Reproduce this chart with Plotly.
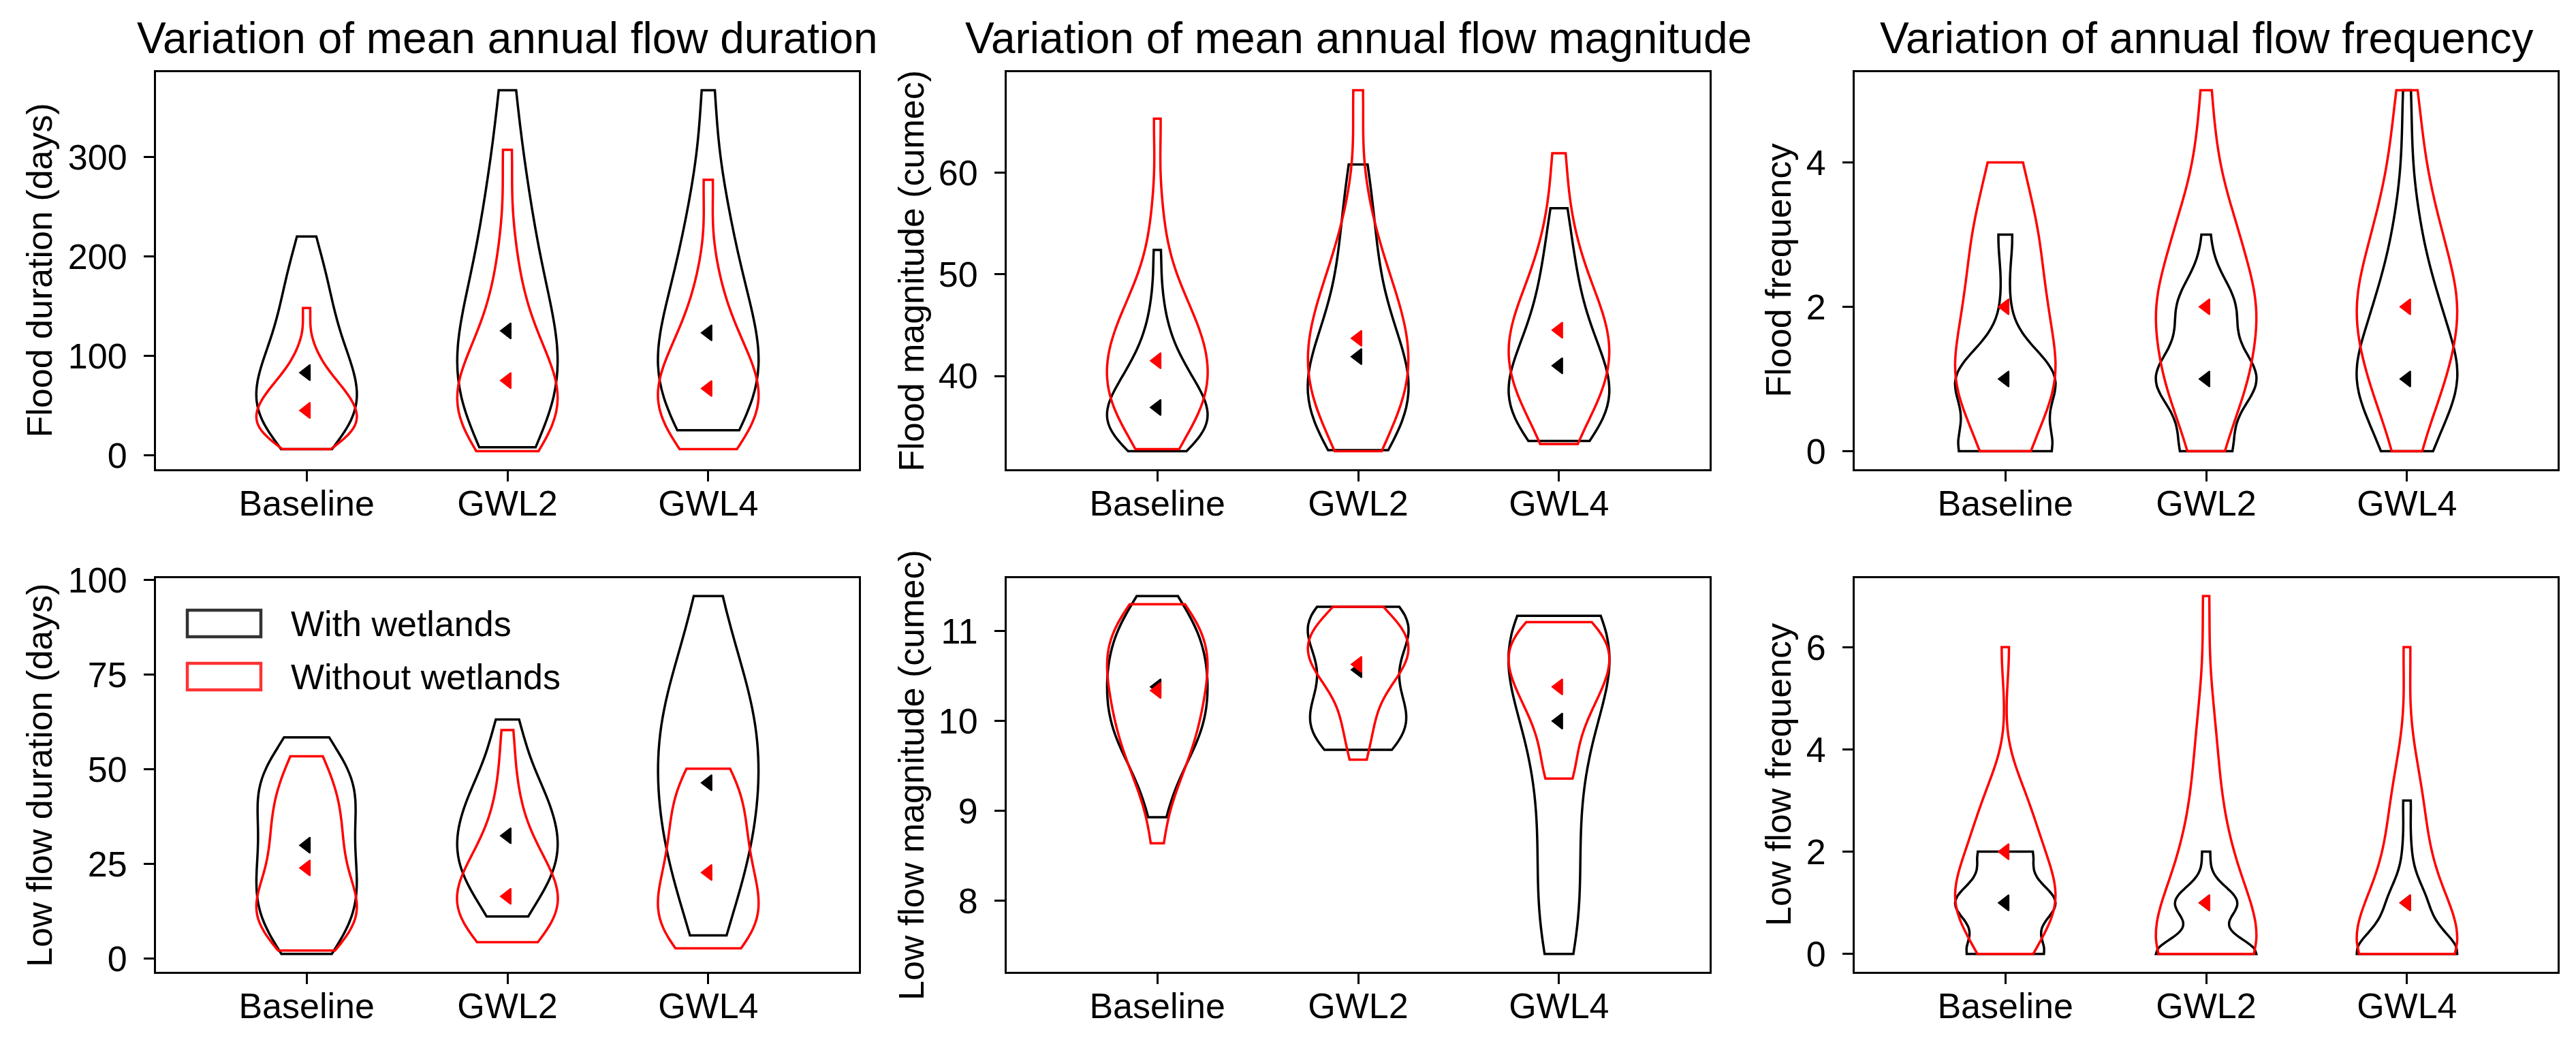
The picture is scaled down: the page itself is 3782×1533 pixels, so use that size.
import numpy as np
import plotly.graph_objects as go

# ---------------- data ----------------
SCENARIOS = ["Baseline", "GWL2", "GWL4"]
POSITIONS = [1, 2, 3]
SERIES = ["With wetlands", "Without wetlands"]

# Flood duration (days)
fd_with_base = [6, 15, 21, 26, 31, 36, 40, 45, 50, 54, 59, 63, 68, 73, 78, 83, 89, 94, 100, 107,
                114, 122, 131, 140, 150, 160, 172, 184, 197, 220]
fd_without_base = [6, 11, 14, 17, 20, 22, 25, 27, 30, 32, 35, 37, 39, 42, 44, 47, 49, 52, 55, 58,
                   61, 64, 68, 71, 75, 81, 87, 96, 110, 148]
fd_with_gwl2 = [8, 28, 40, 50, 61, 72, 82, 93, 105, 117, 129, 143, 157, 175, 194, 216, 241, 270, 303, 367]
fd_without_gwl2 = [4, 16, 23, 29, 35, 41, 47, 53, 59, 66, 73, 80, 89, 98, 111, 125, 144, 172, 215, 307]
fd_with_gwl4 = [25, 40, 49, 57, 66, 76, 85, 94, 104, 115, 126, 139, 152, 167, 184, 202, 227, 252, 290, 367]
fd_without_gwl4 = [6, 18, 25, 31, 37, 44, 50, 56, 62, 68, 75, 82, 90, 98, 109, 120, 134, 155, 190, 277]
fd_marker_with = [83, 125, 123]
fd_marker_without = [45, 75, 67]

# Flood magnitude (cumec)
fm_with_base = [32.6, 33.1, 33.4, 33.7, 34.0, 34.3, 34.6, 34.9, 35.2, 35.5, 35.8, 36.1, 36.4, 36.7, 37.0,
                37.3, 37.7, 38.1, 38.4, 38.8, 39.3, 39.8, 40.3, 40.9, 41.6, 42.5, 43.6, 45.2, 47.9, 52.4]
fm_without_base = [32.8, 34.0, 34.9, 35.5, 36.1, 36.6, 37.2, 37.7, 38.2, 38.7, 39.2, 39.7, 40.2, 40.7, 41.2,
                   41.7, 42.2, 42.7, 43.3, 43.8, 44.4, 45.0, 45.7, 46.5, 47.3, 48.3, 49.7, 52.1, 56.4, 65.3]
fm_with_gwl2 = [32.7, 34.0, 34.9, 35.7, 36.5, 37.3, 38.1, 38.8, 39.6, 40.5, 41.4, 42.4, 43.5, 44.9, 46.5,
                48.6, 51.2, 53.9, 56.7, 60.8]
fm_without_gwl2 = [32.6, 34.8, 35.9, 36.9, 38.0, 38.9, 39.8, 40.7, 41.6, 42.5, 43.4, 44.3, 45.4, 46.5, 47.7,
                   49.1, 50.8, 53.0, 57.2, 68.1]
fm_with_gwl4 = [33.6, 34.6, 35.3, 35.9, 36.6, 37.2, 37.8, 38.5, 39.2, 39.9, 40.7, 41.5, 42.4, 43.5, 44.7,
                46.2, 48.1, 50.2, 52.7, 56.5]
fm_without_gwl4 = [33.3, 35.8, 37.1, 38.0, 39.0, 39.9, 40.7, 41.5, 42.3, 43.0, 43.8, 44.6, 45.5, 46.4, 47.5,
                   48.8, 50.5, 52.8, 56.0, 61.9]
fm_marker_with = [36.9, 41.9, 41.0]
fm_marker_without = [41.5, 43.7, 44.5]

# Flood frequency: number of years with 0, 1, 2, ... events
FREQ_LEVELS = [0, 1, 2, 3, 4, 5, 6, 7]
ff_with_base_counts = [13, 14, 1, 2]
ff_without_base_counts = [4, 10, 7, 6, 3]
ff_with_gwl2_counts = [7, 14, 8, 1]
ff_without_gwl2_counts = [3, 8, 10, 6, 2, 1]
ff_with_gwl4_counts = [5, 13, 7, 3, 1, 1]
ff_without_gwl4_counts = [2, 7, 10, 6, 3, 2]
ff_marker_with = [1, 1, 1]
ff_marker_without = [2, 2, 2]

# Low flow duration (days)
ld_with_base = [1.3, 4, 6, 8, 10, 12, 13.5, 15, 17, 19, 20.5, 22, 24, 26, 28, 30, 32, 34, 36.5, 38.5,
                40.5, 42, 44, 45.5, 47, 48.5, 50, 52, 55, 58.5]
ld_without_base = [2.2, 4.5, 6, 7.5, 8.5, 9.5, 10.5, 11.5, 12.5, 13.5, 15, 16, 17.5, 19, 20.5, 23, 25, 27,
                   29, 31, 33, 35, 37, 39, 41, 43, 45, 48, 51, 53.5]
ld_with_gwl2 = [11.2, 15, 18, 20.5, 22.5, 24.5, 26.5, 28, 30, 31.5, 33.5, 35.5, 37.5, 40, 42, 44.5, 47, 51,
                57, 63.2]
ld_without_gwl2 = [4.4, 6, 8, 9.5, 11, 12.5, 14, 15, 16.5, 18, 19.5, 21, 23, 25, 27.5, 30, 34, 40, 48, 60.4]
ld_with_gwl4 = [6.2, 14, 20, 25, 29, 33, 37, 40.5, 44, 47.5, 51, 54.5, 58, 61.5, 65, 68.5, 73, 78, 85, 95.8]
ld_without_gwl4 = [2.8, 4, 6.5, 8.5, 10.5, 12, 14, 16, 18.5, 21, 23, 26, 29, 32, 35, 38, 41, 44, 47.5, 50.2]
ld_marker_with = [30, 32.5, 46.5]
ld_marker_without = [24, 16.5, 22.8]

# Low flow magnitude (cumec)
lm_with_base = [8.93, 9.25, 9.4, 9.55, 9.65, 9.72, 9.8, 9.87, 9.93, 10.0, 10.06, 10.12, 10.18, 10.25, 10.31,
                10.37, 10.43, 10.5, 10.56, 10.62, 10.68, 10.75, 10.81, 10.88, 10.95, 11.02, 11.1, 11.18,
                11.27, 11.39]
lm_without_base = [8.64, 9.1, 9.3, 9.42, 9.55, 9.65, 9.75, 9.83, 9.9, 9.97, 10.05, 10.12, 10.2, 10.27, 10.35,
                   10.42, 10.48, 10.55, 10.6, 10.66, 10.72, 10.78, 10.84, 10.9, 10.97, 11.04, 11.1, 11.17,
                   11.24, 11.30]
lm_with_gwl2 = [9.68, 9.75, 9.83, 9.9, 9.96, 10.02, 10.1, 10.2, 10.32, 10.45, 10.6, 10.74, 10.86, 10.96,
                11.04, 11.1, 11.15, 11.2, 11.24, 11.27]
lm_without_gwl2 = [9.57, 9.85, 10.0, 10.2, 10.35, 10.45, 10.52, 10.58, 10.64, 10.69, 10.74, 10.79, 10.84,
                   10.89, 10.94, 10.99, 11.05, 11.11, 11.18, 11.27]
lm_with_gwl4 = [7.41, 7.55, 7.75, 7.95, 8.15, 8.4, 8.65, 8.9, 9.15, 9.4, 9.6, 9.78, 9.94, 10.08, 10.2,
                10.32, 10.42, 10.52, 10.6, 10.68, 10.76, 10.83, 10.9, 10.96, 11.02, 11.07, 11.11, 11.14,
                11.16, 11.17]
lm_without_gwl4 = [9.36, 9.42, 9.7, 9.9, 10.05, 10.15, 10.25, 10.35, 10.42, 10.5, 10.56, 10.62, 10.68, 10.75,
                   10.82, 10.88, 10.94, 11.0, 11.05, 11.10]
lm_marker_with = [10.38, 10.57, 10.0]
lm_marker_without = [10.34, 10.63, 10.38]

# Low flow frequency: number of years with 0, 1, 2, ... events
lf_with_base_counts = [10, 13, 7]
lf_without_base_counts = [4, 10, 6, 4, 0, 0, 1]
lf_with_gwl2_counts = [13, 8, 1]
lf_without_gwl2_counts = [13, 6, 4, 2, 2, 1, 0, 1]
lf_with_gwl4_counts = [14, 5, 1, 1]
lf_without_gwl4_counts = [12, 6, 3, 3, 1, 0, 1]
lf_marker_with = [1, 1, 1]
lf_marker_without = [2, 1, 1]


def from_counts(counts):
    return np.repeat(FREQ_LEVELS[:len(counts)], counts).astype(float)


PANELS = [
    dict(title="Variation of mean annual flow duration", ylabel="Flood duration (days)", dtick=100,
         with_=[fd_with_base, fd_with_gwl2, fd_with_gwl4],
         without=[fd_without_base, fd_without_gwl2, fd_without_gwl4],
         m_with=fd_marker_with, m_without=fd_marker_without),
    dict(title="Variation of mean annual flow magnitude", ylabel="Flood magnitude (cumec)", dtick=10,
         with_=[fm_with_base, fm_with_gwl2, fm_with_gwl4],
         without=[fm_without_base, fm_without_gwl2, fm_without_gwl4],
         m_with=fm_marker_with, m_without=fm_marker_without),
    dict(title="Variation of annual flow frequency", ylabel="Flood frequency", dtick=2,
         with_=[from_counts(ff_with_base_counts), from_counts(ff_with_gwl2_counts),
                from_counts(ff_with_gwl4_counts)],
         without=[from_counts(ff_without_base_counts), from_counts(ff_without_gwl2_counts),
                  from_counts(ff_without_gwl4_counts)],
         m_with=ff_marker_with, m_without=ff_marker_without),
    dict(title=None, ylabel="Low flow duration (days)", dtick=25,
         with_=[ld_with_base, ld_with_gwl2, ld_with_gwl4],
         without=[ld_without_base, ld_without_gwl2, ld_without_gwl4],
         m_with=ld_marker_with, m_without=ld_marker_without),
    dict(title=None, ylabel="Low flow magnitude (cumec)", dtick=1,
         with_=[lm_with_base, lm_with_gwl2, lm_with_gwl4],
         without=[lm_without_base, lm_without_gwl2, lm_without_gwl4],
         m_with=lm_marker_with, m_without=lm_marker_without),
    dict(title=None, ylabel="Low flow frequency", dtick=2,
         with_=[from_counts(lf_with_base_counts), from_counts(lf_with_gwl2_counts),
                from_counts(lf_with_gwl4_counts)],
         without=[from_counts(lf_without_base_counts), from_counts(lf_without_gwl2_counts),
                  from_counts(lf_without_gwl4_counts)],
         m_with=lf_marker_with, m_without=lf_marker_without),
]

# ---------------- styling / layout ----------------
W, H = 3782, 1533
FONT = "Liberation Sans, Arial, sans-serif"
TICK_SIZE = 52
TITLE_SIZE = 64
COL_PX = [(229, 1261), (1478, 2510), (2723, 3755)]
ROW_PX = [(106, 689), (849, 1427)]
YLABEL_X_PX = [58, 1338, 2611]
COLORS = ["#000000", "#ff0000"]
LINE_W = 3.5


def scott_bandwidth(values):
    v = np.asarray(values, dtype=float)
    return float(np.std(v, ddof=1) * len(v) ** (-0.2))


fig = go.Figure()
annotations = []
layout_axes = {}

for i, p in enumerate(PANELS):
    r, c = divmod(i, 3)
    k = i + 1
    xa = "x" if k == 1 else f"x{k}"
    ya = "y" if k == 1 else f"y{k}"

    groups = [p["with_"], p["without"]]
    for s, grp in enumerate(groups):
        for pos, vals in zip(POSITIONS, grp):
            vals = np.asarray(vals, dtype=float)
            fig.add_trace(go.Violin(
                x=[pos] * len(vals), y=vals, xaxis=xa, yaxis=ya,
                width=0.5, spanmode="hard", scalemode="width",
                bandwidth=scott_bandwidth(vals),
                line=dict(color=COLORS[s], width=LINE_W),
                fillcolor="rgba(0,0,0,0)", points=False,
                box_visible=False, meanline_visible=False,
                showlegend=False, hoverinfo="skip", name=SERIES[s],
            ))
    for s, mk in enumerate([p["m_with"], p["m_without"]]):
        fig.add_trace(go.Scatter(
            x=POSITIONS, y=mk, xaxis=xa, yaxis=ya, mode="markers",
            marker=dict(symbol="triangle-left", size=20, color=COLORS[s],
                        line=dict(color=COLORS[s], width=2)),
            showlegend=False, hoverinfo="skip", name=SERIES[s],
        ))

    allv = np.concatenate([np.asarray(v, float) for g in groups for v in g])
    lo, hi = float(allv.min()), float(allv.max())
    pad = 0.05 * (hi - lo)

    x0, x1 = COL_PX[c]
    y0, y1 = ROW_PX[r]
    xdom = [x0 / W, x1 / W]
    ydom = [1 - y1 / H, 1 - y0 / H]
    common = dict(showline=True, linecolor="black", linewidth=3, mirror=True,
                  ticks="outside", ticklen=15, tickwidth=3, tickcolor="black",
                  showgrid=False, zeroline=False, automargin=False,
                  tickfont=dict(family=FONT, size=TICK_SIZE, color="black"))
    layout_axes["xaxis" if k == 1 else f"xaxis{k}"] = dict(
        domain=xdom, anchor=ya, range=[0.25, 3.75], tickmode="array",
        tickvals=POSITIONS, ticktext=SCENARIOS, ticklabelstandoff=-12, **common)
    layout_axes["yaxis" if k == 1 else f"yaxis{k}"] = dict(
        domain=ydom, anchor=xa, range=[lo - pad, hi + pad], tick0=0, dtick=p["dtick"],
        ticklabelstandoff=14, **common)

    if p["title"]:
        annotations.append(dict(
            text=p["title"], xref="paper", yref="paper", x=(xdom[0] + xdom[1]) / 2, y=ydom[1],
            xanchor="center", yanchor="bottom", yshift=12, showarrow=False,
            font=dict(family=FONT, size=TITLE_SIZE, color="black")))
    annotations.append(dict(
        text=p["ylabel"], xref="paper", yref="paper", x=YLABEL_X_PX[c] / W,
        y=(ydom[0] + ydom[1]) / 2, xanchor="center", yanchor="middle", textangle=-90,
        showarrow=False, font=dict(family=FONT, size=TICK_SIZE, color="black")))

# legend (drawn inside the lower-left panel)
LEG_BOX_X = (275, 383)
LEG_BOX_Y = [(896, 935), (974, 1013)]
LEG_TEXT_X = 425
LEG_COLORS = ["rgba(0,0,0,0.8)", "rgba(255,0,0,0.8)"]
shapes = []
for s in range(2):
    shapes.append(dict(type="rect", xref="paper", yref="paper",
                       x0=LEG_BOX_X[0] / W, x1=LEG_BOX_X[1] / W,
                       y0=1 - LEG_BOX_Y[s][1] / H, y1=1 - LEG_BOX_Y[s][0] / H,
                       line=dict(color=LEG_COLORS[s], width=4.5), fillcolor="rgba(0,0,0,0)"))
    annotations.append(dict(text=SERIES[s], xref="paper", yref="paper", x=LEG_TEXT_X / W,
                            y=1 - (LEG_BOX_Y[s][0] + LEG_BOX_Y[s][1]) / 2 / H,
                            xanchor="left", yanchor="middle", showarrow=False,
                            font=dict(family=FONT, size=TICK_SIZE, color="black")))

fig.update_layout(
    template="none",
    width=W, height=H, margin=dict(l=0, r=0, t=0, b=0, pad=0),
    paper_bgcolor="white", plot_bgcolor="white",
    violinmode="overlay", violingap=0, violingroupgap=0,
    showlegend=False, annotations=annotations, shapes=shapes,
    font=dict(family=FONT, size=TICK_SIZE, color="black"),
    **layout_axes,
)

fig.write_html("out.html", config={"displayModeBar": False},
               post_script="document.body.style.margin='0';")
